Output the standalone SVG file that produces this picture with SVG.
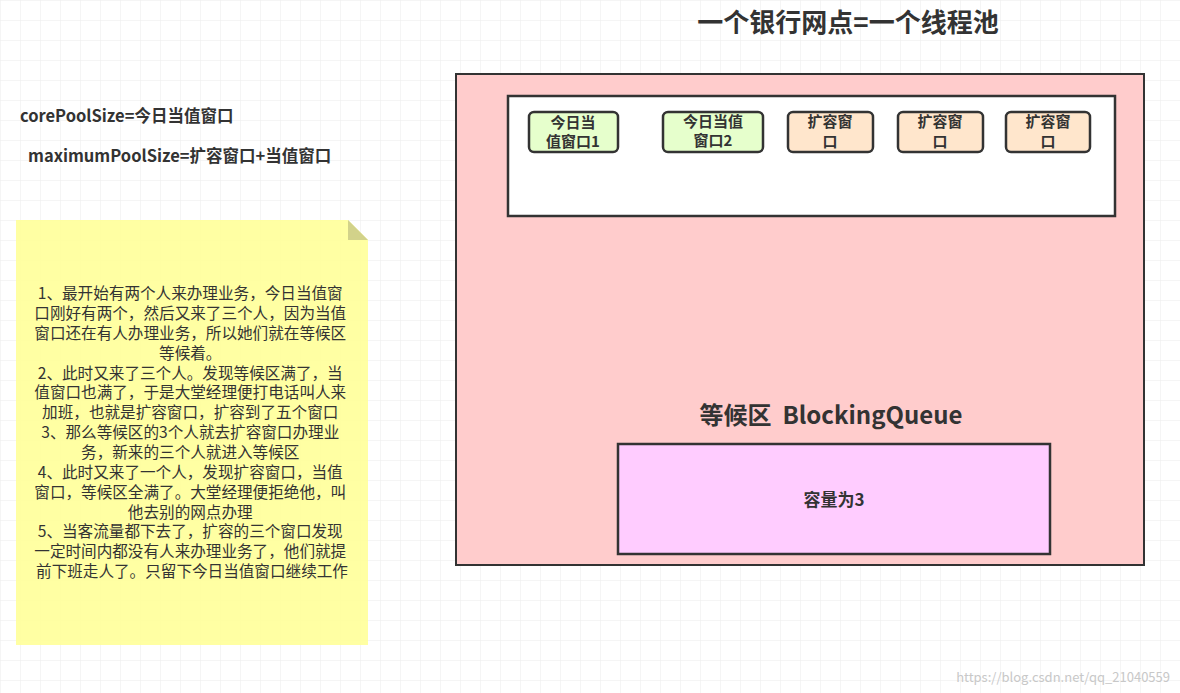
<svg xmlns="http://www.w3.org/2000/svg" width="1180" height="693" viewBox="0 0 1180 693">
<defs>
<pattern id="g" width="20" height="20" patternUnits="userSpaceOnUse"><path d="M20 0H0V20" fill="none" stroke="#ececec" stroke-width="1"/></pattern>
<style>
text{font-family:"Noto Sans CJK SC","Liberation Sans",sans-serif;fill:#333}
.b{font-weight:bold}
.win{stroke:#333;stroke-width:2.5}
.n{font-size:15.6px}
.w{font-size:15px;font-weight:bold;text-anchor:middle}
</style>
</defs>
<rect width="1180" height="693" fill="#fff"/>
<rect width="1180" height="693" fill="url(#g)"/>
<g id="title"><text x="848" y="32" class="b" font-size="26" text-anchor="middle">一个银行网点=一个线程池</text></g>
<g id="labels">
<text x="20" y="122" class="b" font-size="16.5">corePoolSize=今日当值窗口</text>
<text x="28" y="162" class="b" font-size="16.5">maximumPoolSize=扩容窗口+当值窗口</text>
</g>
<g id="note">
<path d="M16 220H348L368 240V645H16Z" fill="#ffff99" opacity="0.9"/>
<path d="M348 220V240H368Z" fill="#d2d28a"/>
<text class="n" text-anchor="middle" fill="#333">
<tspan x="192" y="299">1、最开始有两个人来办理业务，今日当值窗</tspan>
<tspan x="192" y="319">口刚好有两个，然后又来了三个人，因为当值</tspan>
<tspan x="192" y="339">窗口还在有人办理业务，所以她们就在等候区</tspan>
<tspan x="192" y="359">等候着。</tspan>
<tspan x="192" y="379">2、此时又来了三个人。发现等候区满了，当</tspan>
<tspan x="192" y="398">值窗口也满了，于是大堂经理便打电话叫人来</tspan>
<tspan x="192" y="418">加班，也就是扩容窗口，扩容到了五个窗口</tspan>
<tspan x="192" y="438">3、那么等候区的3个人就去扩容窗口办理业</tspan>
<tspan x="192" y="458">务，新来的三个人就进入等候区</tspan>
<tspan x="192" y="478">4、此时又来了一个人，发现扩容窗口，当值</tspan>
<tspan x="192" y="498">窗口，等候区全满了。大堂经理便拒绝他，叫</tspan>
<tspan x="192" y="518">他去别的网点办理</tspan>
<tspan x="192" y="537">5、当客流量都下去了，扩容的三个窗口发现</tspan>
<tspan x="192" y="557">一定时间内都没有人来办理业务了，他们就提</tspan>
<tspan x="192" y="577">前下班走人了。只留下今日当值窗口继续工作</tspan>
</text>
</g>
<g id="bank"><rect x="456" y="74" width="688" height="491" fill="#ffcccc" stroke="#333" stroke-width="2"/></g>
<g id="windows-area"><rect x="508" y="96" width="607" height="120" fill="#fff" stroke="#333" stroke-width="2.5"/></g>
<g id="w1"><rect x="529" y="112" width="89" height="40" rx="5" fill="#e6ffcc" class="win"/><text class="w" x="573" y="128">今日当</text><text class="w" x="573" y="147">值窗口1</text></g>
<g id="w2"><rect x="663" y="112" width="100" height="40" rx="5" fill="#e6ffcc" class="win"/><text class="w" x="713" y="127">今日当值</text><text class="w" x="713" y="146">窗口2</text></g>
<g id="w3"><rect x="788" y="112" width="85" height="40" rx="5" fill="#ffe6cc" class="win"/><text class="w" x="830" y="127">扩容窗</text><text class="w" x="830" y="147">口</text></g>
<g id="w4"><rect x="898" y="112" width="85" height="40" rx="5" fill="#ffe6cc" class="win"/><text class="w" x="940" y="127">扩容窗</text><text class="w" x="940" y="147">口</text></g>
<g id="w5"><rect x="1006" y="112" width="84" height="40" rx="5" fill="#ffe6cc" class="win"/><text class="w" x="1048" y="127">扩容窗</text><text class="w" x="1048" y="147">口</text></g>
<g id="queue-label"><text x="831" y="424" class="b" font-size="24" text-anchor="middle" xml:space="preserve">等候区  BlockingQueue</text></g>
<g id="queue"><rect x="618" y="444" width="432" height="110" fill="#ffccff" stroke="#333" stroke-width="2.5"/><text x="834" y="506" class="b" font-size="17" text-anchor="middle">容量为3</text></g>
<g id="connectors"></g>
<text x="1170" y="682" font-size="13" text-anchor="end" style="fill:#c8c8c8">https://blog.csdn.net/qq_21040559</text>
</svg>
